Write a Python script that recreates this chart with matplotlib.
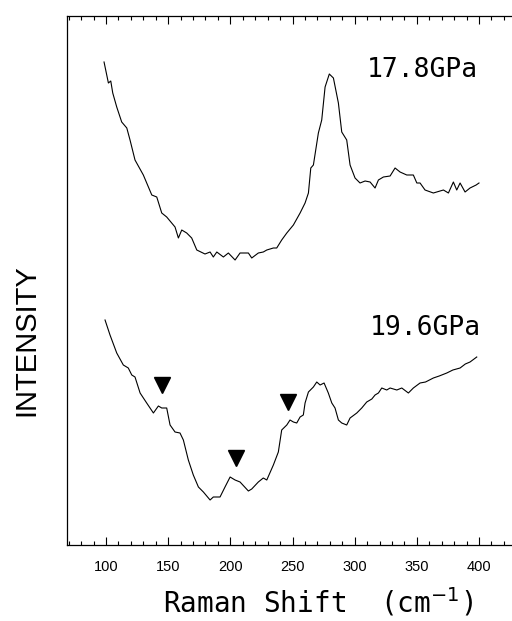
import matplotlib
matplotlib.use("Agg")
import matplotlib.pyplot as plt
from matplotlib.ticker import MultipleLocator, FixedLocator

# Raman shift (cm^-1) and intensity (arb. units)
shift_178 = [98.4, 101.9, 103.8, 105.4, 108.6, 112.6, 116.7, 119.3, 123.3, 130.0,
             136.8, 140.8, 144.8, 148.8, 155.5, 158.2, 160.9, 164.9, 168.9, 173.0,
             179.6, 183.7, 186.3, 189.1, 194.4, 198.4, 203.8, 207.8, 214.5, 217.2,
             222.5, 226.5, 229.3, 234.6, 237.3, 241.3, 245.4, 250.7, 256.1, 260.1,
             262.8, 264.7, 266.8, 270.8, 273.5, 276.2, 279.6, 282.9, 286.9, 289.6,
             293.6, 296.3, 300.3, 304.3, 308.4, 312.4, 316.4, 319.1, 323.1, 328.5,
             332.5, 336.5, 341.9, 347.2, 350.0, 352.6, 356.6, 363.3, 371.4, 375.4,
             379.4, 382.1, 384.8, 388.8, 392.8, 397.7, 400.0]
int_178 = [483, 462, 464, 452, 438, 423, 417, 405, 385, 370,
           350, 348, 332, 328, 318, 307, 315, 312, 307, 295,
           291, 293, 288, 293, 288, 292, 285, 292, 292, 287,
           292, 293, 295, 297, 297, 305, 312, 320, 332, 342,
           352, 377, 380, 412, 425, 458, 471, 467, 442, 413,
           405, 380, 367, 362, 364, 363, 357, 365, 368, 369,
           377, 373, 370, 370, 362, 362, 355, 352, 355, 352,
           363, 355, 362, 353, 357, 360, 362]

shift_196 = [99.2, 103.2, 108.6, 113.9, 117.9, 120.7, 123.3, 127.4, 132.7, 138.1,
             142.1, 144.8, 148.8, 151.5, 155.5, 159.5, 162.2, 166.2, 170.2, 174.3,
             178.3, 183.7, 186.3, 191.7, 195.7, 199.8, 203.8, 207.8, 214.5, 217.2,
             222.5, 226.5, 229.3, 234.6, 238.6, 241.3, 245.4, 248.0, 250.7, 253.4,
             256.1, 258.7, 260.1, 262.8, 266.8, 269.5, 272.2, 275.4, 278.8, 281.6,
             284.2, 286.9, 289.6, 293.6, 296.3, 301.7, 305.7, 309.7, 313.8, 316.4,
             319.1, 321.8, 325.8, 328.5, 333.9, 337.9, 343.2, 347.2, 352.6, 357.0,
             363.3, 368.0, 374.1, 379.0, 384.8, 389.0, 392.8, 398.2]
int_196 = [225, 210, 192, 180, 177, 170, 168, 152, 142, 132,
           139, 137, 137, 120, 113, 112, 105, 85, 70, 58,
           53, 45, 48, 48, 58, 68, 65, 63, 54, 56,
           63, 67, 65, 80, 93, 115, 120, 125, 123, 122,
           128, 130, 142, 153, 158, 163, 160, 162, 152, 142,
           137, 125, 122, 120, 127, 132, 137, 143, 146, 150,
           152, 157, 155, 157, 155, 157, 152, 157, 162, 163,
           167, 169, 172, 175, 177, 181, 183, 188]

marker_shift = [144.8, 204.6, 246.7]
marker_int = [160, 87, 143]

labels = ["17.8GPa", "19.6GPa"]
label_pos_x = [310, 312]
label_pos_y = [475, 217]

major_ticks = [100, 150, 200, 250, 300, 350, 400]

fig = plt.figure(figsize=(5.12, 6.21), dpi=100)
ax = fig.add_axes([67 / 512, 1 - 545 / 621, 455 / 512, 529 / 621])

ax.plot(shift_178, int_178, color="black", lw=0.8)
ax.plot(shift_196, int_196, color="black", lw=0.8)
ax.plot(marker_shift, marker_int, linestyle="none", marker="v",
        color="black", markersize=11)

for t, x, y in zip(labels, label_pos_x, label_pos_y):
    ax.text(x, y, t, fontsize=19, family="DejaVu Sans Mono",
            ha="left", va="center")

ax.set_xlim(68.6, 434.6)
ax.set_ylim(0, 529)
ax.xaxis.set_major_locator(FixedLocator(major_ticks))
ax.xaxis.set_minor_locator(MultipleLocator(10))
ax.tick_params(axis="x", which="both", direction="in", top=True, bottom=True,
               labeltop=False, labelsize=10.5, pad=11)
ax.tick_params(axis="x", which="major", length=6, width=0.8)
ax.tick_params(axis="x", which="minor", length=3, width=0.8)
for lab in ax.get_xticklabels():
    lab.set_family("Liberation Sans")
ax.set_yticks([])
for s in ax.spines.values():
    s.set_linewidth(0.9)

fig.text(26 / 512, 1 - 340 / 621, "INTENSITY", rotation=90, fontsize=21,
         family="Liberation Sans", ha="center", va="center")
fig.text(318 / 512, 1 - 602 / 621, "Raman Shift  (cm$^{-1}$)", fontsize=20,
         family="DejaVu Sans Mono", ha="center", va="center")

fig.savefig("out.png", dpi=100)
